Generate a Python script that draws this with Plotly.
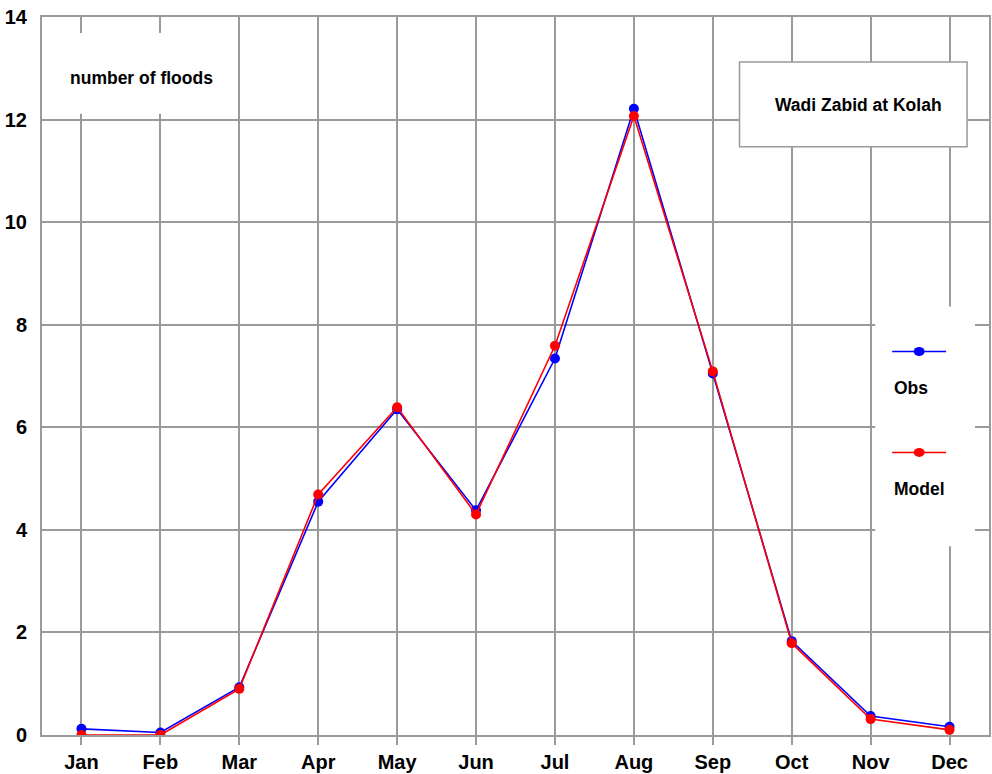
import plotly.graph_objects as go

months = ["Jan", "Feb", "Mar", "Apr", "May", "Jun", "Jul", "Aug", "Sep", "Oct", "Nov", "Dec"]
obs = [0.12, 0.05, 0.93, 4.55, 6.35, 4.38, 7.34, 12.21, 7.05, 1.83, 0.37, 0.16]
model = [0.0, 0.0, 0.90, 4.69, 6.39, 4.30, 7.59, 12.07, 7.09, 1.79, 0.31, 0.10]
y_ticks = [0, 2, 4, 6, 8, 10, 12, 14]

W, H = 992, 774
ML, MR, MT, MB = 42, 1, 17, 38
PW, PH = W - ML - MR, H - MT - MB

def px(x):
    return (x - ML) / PW

def py(y):
    return (H - MB - y) / PH

FONT = "Liberation Sans, Arial, sans-serif"
GRID = "#9a9a9a"

fig = go.Figure()
fig.add_trace(go.Scatter(x=months, y=obs, mode="lines+markers", name="Obs",
                         line=dict(color="#0000ff", width=1.6),
                         marker=dict(color="#0000ff", size=10), showlegend=False))
fig.add_trace(go.Scatter(x=months, y=model, mode="lines+markers", name="Model",
                         line=dict(color="#ff0000", width=1.6),
                         marker=dict(color="#ff0000", size=10), showlegend=False))

shapes = []
annotations = []
# "number of floods" white box
shapes.append(dict(type="rect", xref="paper", yref="paper", layer="above",
                   x0=px(46), x1=px(234), y0=py(114), y1=py(33),
                   fillcolor="white", line=dict(width=0)))
annotations.append(dict(xref="paper", yref="paper", x=px(141.5), y=py(78),
                        xanchor="center", yanchor="middle",
                        text="<b>number of floods</b>", showarrow=False,
                        font=dict(family=FONT, size=17.5, color="black")))
# title box
shapes.append(dict(type="rect", xref="paper", yref="paper", layer="above",
                   x0=px(741), x1=px(969), y0=py(147), y1=py(62),
                   fillcolor="white", line=dict(color=GRID, width=1.5)))
annotations.append(dict(xref="paper", yref="paper", x=px(860), y=py(105),
                        xanchor="center", yanchor="middle",
                        text="<b>Wadi Zabid at Kolah</b>", showarrow=False,
                        font=dict(family=FONT, size=17.5, color="black")))
# legend box
shapes.append(dict(type="rect", xref="paper", yref="paper", layer="above",
                   x0=px(877), x1=px(977), y0=py(547), y1=py(307),
                   fillcolor="white", line=dict(width=0)))
for name, color, ly in [("Obs", "#0000ff", 352), ("Model", "#ff0000", 453)]:
    shapes.append(dict(type="line", xref="paper", yref="paper", layer="above",
                       x0=px(894), x1=px(948), y0=py(ly), y1=py(ly),
                       line=dict(color=color, width=1.5)))
    shapes.append(dict(type="circle", xref="paper", yref="paper", layer="above",
                       x0=px(915.5), x1=px(926.5), y0=py(ly + 4.5), y1=py(ly - 4.5),
                       fillcolor=color, line=dict(color=color, width=0)))
    annotations.append(dict(xref="paper", yref="paper", x=px(894), y=py(ly + 37),
                            xanchor="left", yanchor="middle",
                            text=f"<b>{name}</b>", showarrow=False,
                            font=dict(family=FONT, size=17.5, color="black")))

fig.update_layout(
    width=W, height=H,
    margin=dict(l=ML, r=MR, t=MT, b=MB, pad=0),
    plot_bgcolor="white", paper_bgcolor="white",
    shapes=shapes, annotations=annotations,
    showlegend=False,
    font=dict(family=FONT, size=20, color="black"),
)
fig.update_xaxes(type="category", categoryorder="array", categoryarray=months,
                 range=[-0.5, 11.5], showgrid=True, gridcolor=GRID, gridwidth=2,
                 showline=True, linecolor=GRID, linewidth=2, mirror=True,
                 ticks="outside", ticklen=8, tickwidth=2, tickcolor=GRID,
                 tickfont=dict(family=FONT, size=20, color="black", weight="bold"),
                 zeroline=False)
fig.update_yaxes(range=[0, 14], tickvals=y_ticks, ticktext=[str(v) for v in y_ticks],
                 showgrid=True, gridcolor=GRID, gridwidth=2,
                 showline=True, linecolor=GRID, linewidth=2, mirror=True,
                 ticks="", ticklabelstandoff=9,
                 tickfont=dict(family=FONT, size=20, color="black", weight="bold"),
                 zeroline=False)

fig.write_html("out.html", config={"displayModeBar": False},
               post_script="document.body.style.margin='0px';document.body.style.padding='0px';")
